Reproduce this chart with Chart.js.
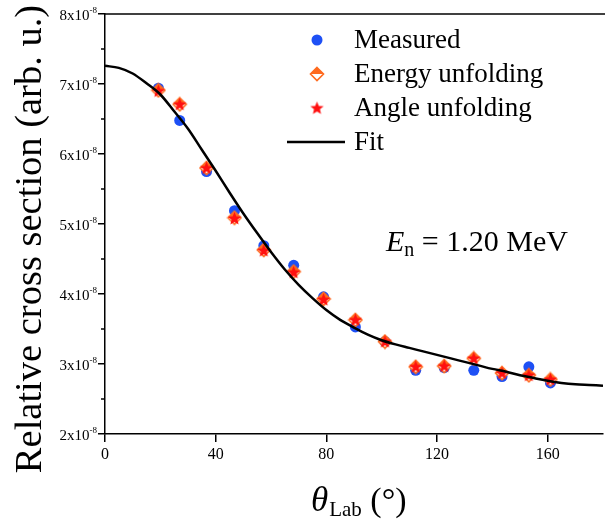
<!DOCTYPE html>
<html><head><meta charset="utf-8">
<script src="https://cdn.jsdelivr.net/npm/chart.js@4.4.0/dist/chart.umd.min.js"></script>
<style>
html,body{margin:0;padding:0;overflow:hidden;background:#fff;width:608px;height:523px;}
#wrap{position:relative;width:612px;height:523px;}
canvas{display:block;}
</style></head><body>
<div id="wrap"><canvas id="c" width="612" height="523"></canvas></div>
<script>
// Data (cross sections in units of 1e-8, arb. u.)
const angles = [19.3, 27.0, 36.7, 46.8, 57.4, 68.2, 79.0, 90.5, 101.2, 112.3, 122.6, 133.3, 143.5, 153.2, 161.0];
const measured = [6.94, 6.48, 5.75, 5.19, 4.69, 4.41, 3.96, 3.53, 3.32, 2.91, 2.95, 2.91, 2.82, 2.96, 2.73];
const energyUnfolding = [6.91, 6.71, 5.80, 5.09, 4.63, 4.32, 3.93, 3.63, 3.32, 2.96, 2.97, 3.08, 2.87, 2.84, 2.78];
const angleUnfolding = [6.90, 6.71, 5.80, 5.08, 4.62, 4.31, 3.92, 3.63, 3.32, 2.96, 2.97, 3.08, 2.87, 2.84, 2.78];
const fitAngles = [0,5,10,15,20,25,30,35,40,45,50,55,60,65,70,75,80,85,90,95,100,105,110,115,120,125,130,135,140,145,150,155,160,165,170,175,180];
const fitValues = [7.26,7.23,7.15,7.01,6.85,6.61,6.36,6.06,5.76,5.45,5.15,4.87,4.60,4.35,4.13,3.94,3.77,3.63,3.52,3.42,3.34,3.28,3.23,3.18,3.13,3.08,3.03,2.98,2.93,2.89,2.84,2.80,2.76,2.73,2.71,2.70,2.69];
const yTickValues = [2,3,4,5,6,7,8];
const yMinorTicks = [2.5,3.5,4.5,5.5,6.5,7.5];
const xTickStep = 40;
const seriesNames = ['Measured','Energy unfolding','Angle unfolding','Fit'];
const annotationMain = ' = 1.20 MeV';

const BLUE = '#1e50f5', ORANGE = '#ff6a1e', RED = '#ff1010';
const SERIF = '"Liberation Serif", "Times New Roman", serif';

function makeDiamond(){
  const c = document.createElement('canvas'); c.width = 16; c.height = 16;
  const g = c.getContext('2d');
  g.beginPath(); g.moveTo(8,1.5); g.lineTo(14.5,8); g.lineTo(8,14.5); g.lineTo(1.5,8); g.closePath();
  g.fillStyle = '#fff'; g.fill();
  g.beginPath(); g.moveTo(8,1.5); g.lineTo(14.5,8); g.lineTo(1.5,8); g.closePath();
  g.fillStyle = ORANGE; g.fill();
  g.beginPath(); g.moveTo(8,1.5); g.lineTo(14.5,8); g.lineTo(8,14.5); g.lineTo(1.5,8); g.closePath();
  g.strokeStyle = ORANGE; g.lineWidth = 1.6; g.stroke();
  return c;
}
function makeStar(){
  const c = document.createElement('canvas'); c.width = 15; c.height = 15;
  const g = c.getContext('2d');
  g.beginPath();
  for (let i=0;i<10;i++){
    const r = i%2===0 ? 7 : 3.1;
    const a = -Math.PI/2 + i*Math.PI/5;
    const x = 7.5 + r*Math.cos(a), y = 7.9 + r*Math.sin(a);
    if(i===0) g.moveTo(x,y); else g.lineTo(x,y);
  }
  g.closePath(); g.fillStyle = RED; g.fill();
  return c;
}
const diamondImg = makeDiamond();
const starImg = makeStar();

function pts(xs, ys){ return xs.map((x,i)=>({x:x, y:ys[i]})); }

const decor = {
  id:'decor',
  afterDraw(chart){
    const ctx = chart.ctx, ca = chart.chartArea;
    const ys = chart.scales.y;
    ctx.save();
    ctx.strokeStyle = '#000'; ctx.lineWidth = 1.5;
    // top border
    ctx.beginPath(); ctx.moveTo(ca.left, ca.top); ctx.lineTo(ca.right+2, ca.top); ctx.stroke();
    // minor y ticks
    yMinorTicks.forEach(v=>{
      const p = ys.getPixelForValue(v);
      ctx.beginPath(); ctx.moveTo(ca.left-4, p); ctx.lineTo(ca.left, p); ctx.stroke();
    });
    // y tick labels with superscripts
    ctx.fillStyle = '#000';
    ctx.textBaseline = 'alphabetic';
    yTickValues.forEach(v=>{
      const p = ys.getPixelForValue(v);
      const main = v + 'x10', sup = '-8';
      ctx.font = '9px ' + SERIF;
      const ws = ctx.measureText(sup).width;
      ctx.font = '15px ' + SERIF;
      const wm = ctx.measureText(main).width;
      const right = ca.left - 8;
      ctx.textAlign = 'left';
      ctx.fillText(main, right - ws - wm, p + 5.5);
      ctx.font = '9px ' + SERIF;
      ctx.fillText(sup, right - ws, p - 1.5);
    });
    // y title
    ctx.save();
    ctx.translate(41, 239); ctx.rotate(-Math.PI/2);
    ctx.font = '38.5px ' + SERIF; ctx.textAlign = 'center'; ctx.textBaseline = 'alphabetic';
    ctx.fillText('Relative cross section (arb. u.)', 0, 0);
    ctx.restore();
    // x title
    {
      ctx.textAlign = 'left'; ctx.textBaseline = 'alphabetic';
      const f1 = 'italic 35px ' + SERIF, f2 = '21px ' + SERIF, f3 = '34px ' + SERIF;
      ctx.font = f1; const w1 = ctx.measureText('θ').width;
      ctx.font = f2; const w2 = ctx.measureText('Lab').width;
      let x = 311;
      const base = 511;
      ctx.font = f1; ctx.fillText('θ', x, base); x += w1 + 1;
      ctx.font = f2; ctx.fillText('Lab', x, base + 5); x += w2;
      ctx.font = f3; ctx.fillText(' (°)', x, base);
    }
    // annotation E_n = 1.20 MeV
    {
      ctx.textAlign = 'left';
      let x = 386; const base = 251;
      ctx.font = 'italic 30px ' + SERIF; ctx.fillText('E', x, base); x += ctx.measureText('E').width;
      ctx.font = '20px ' + SERIF; ctx.fillText('n', x, base + 5); x += ctx.measureText('n').width;
      ctx.font = '30px ' + SERIF; ctx.fillText(annotationMain, x, base);
    }
    // legend
    {
      const mx = 317, tx = 354;
      const rows = [48, 82, 116, 150];
      ctx.font = '27px ' + SERIF; ctx.textAlign = 'left'; ctx.fillStyle = '#000';
      seriesNames.forEach((n,i)=> ctx.fillText(n, tx, rows[i]));
      ctx.beginPath(); ctx.arc(mx, rows[0]-8, 5.5, 0, Math.PI*2); ctx.fillStyle = BLUE; ctx.fill();
      ctx.drawImage(diamondImg, mx - 8, rows[1] - 8 - 8);
      ctx.drawImage(starImg, mx - 7.5, rows[2] - 8 - 7.5);
      ctx.beginPath(); ctx.moveTo(287, rows[3]-8); ctx.lineTo(345, rows[3]-8);
      ctx.strokeStyle = '#000'; ctx.lineWidth = 2.5; ctx.stroke();
    }
    ctx.restore();
  }
};

new Chart(document.getElementById('c'), {
  type: 'scatter',
  data: {
    datasets: [
      { label: seriesNames[3], type:'line', data: pts(fitAngles, fitValues), borderColor:'#000', borderWidth:2.5,
        pointRadius:0, cubicInterpolationMode:'monotone', fill:false, order:0 },
      { label: seriesNames[2], data: pts(angles, angleUnfolding), pointStyle: starImg, pointRadius:7.5, order:1 },
      { label: seriesNames[1], data: pts(angles, energyUnfolding), pointStyle: diamondImg, pointRadius:8, order:2 },
      { label: seriesNames[0], data: pts(angles, measured), pointStyle:'circle', pointRadius:5.5,
        backgroundColor: BLUE, borderColor: BLUE, borderWidth:0, order:3 }
    ]
  },
  options: {
    responsive:false, animation:false, devicePixelRatio:1,
    layout:{ padding:{ top:14, right:3, left:0, bottom:0 } },
    plugins:{ legend:{display:false}, tooltip:{enabled:false} },
    scales:{
      x:{ type:'linear', min:0, max:180,
        ticks:{ stepSize:xTickStep, includeBounds:false, color:'#000', font:{family:SERIF, size:16}, padding:3, maxRotation:0, autoSkip:false },
        grid:{ display:true, drawOnChartArea:false, drawTicks:true, tickLength:8, color:'#000', lineWidth:1.5 },
        border:{ display:true, color:'#000', width:1.5 },
        afterFit(s){ s.height = 89; }
      },
      y:{ type:'linear', min:2, max:8,
        ticks:{ display:false, stepSize:1 },
        grid:{ display:true, drawOnChartArea:false, drawTicks:true, tickLength:7, color:'#000', lineWidth:1.5 },
        border:{ display:true, color:'#000', width:1.5 },
        afterFit(s){ s.width = 105; }
      }
    }
  },
  plugins:[decor]
});
</script>
</body></html>
